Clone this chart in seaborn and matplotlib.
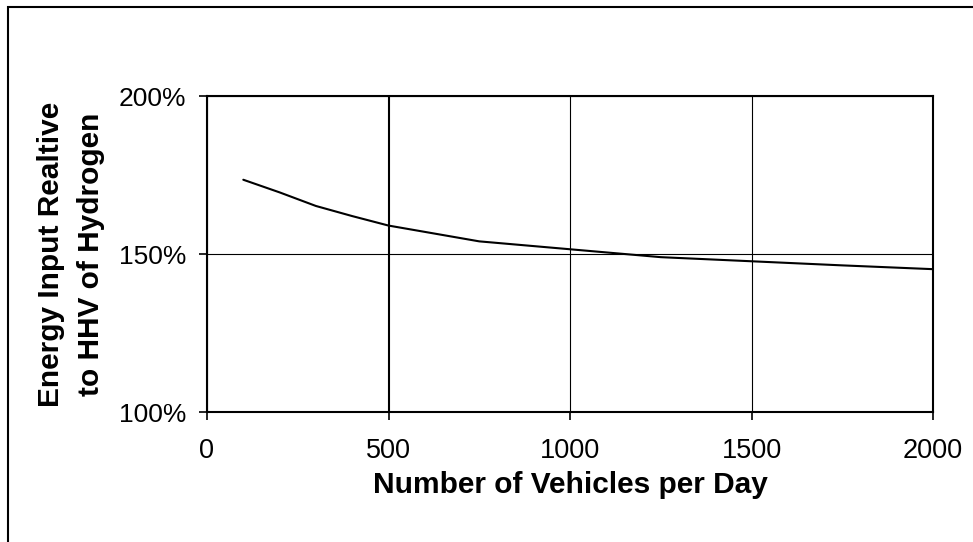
import matplotlib
matplotlib.use("Agg")
import matplotlib.pyplot as plt
import seaborn as sns
import pandas as pd
from matplotlib.patches import Rectangle
from matplotlib.ticker import FuncFormatter

# Data
vehicles_per_day = [100, 200, 300, 400, 500, 750, 1000, 1250, 1500, 1750, 2000]
energy_input_pct = [173.5, 169.5, 165.2, 162.0, 159.0, 154.0, 151.5, 149.0, 147.7, 146.4, 145.2]

x_ticks = [0, 500, 1000, 1500, 2000]
y_ticks = [100, 150, 200]

x_label = "Number of Vehicles per Day"
y_label = "Energy Input Realtive\nto HHV of Hydrogen"

df = pd.DataFrame({"vehicles": vehicles_per_day, "energy": energy_input_pct})

sns.set_style("ticks")
plt.rcParams["font.family"] = ["Liberation Sans", "DejaVu Sans"]
plt.rcParams["text.color"] = "black"
plt.rcParams["axes.labelcolor"] = "black"

fig = plt.figure(figsize=(9.73, 5.42), dpi=100)
ax = fig.add_axes([207 / 973, 1 - 412 / 542, (933 - 207) / 973, (412 - 96) / 542])

sns.lineplot(data=df, x="vehicles", y="energy", color="black", linewidth=1.5, ax=ax)

ax.set_xlim(0, 2000)
ax.set_ylim(100, 200)
ax.set_xticks(x_ticks)
ax.set_yticks(y_ticks)
ax.yaxis.set_major_formatter(FuncFormatter(lambda v, pos: f"{v:.0f}%"))

ax.grid(True, color="black", linewidth=0.8)
ax.set_axisbelow(True)
# the 500 gridline is drawn a bit heavier in the original
for tick_pos, gl in zip(x_ticks, ax.get_xgridlines()):
    if tick_pos == 500:
        gl.set_linewidth(1.5)

for side in ["left", "right", "top", "bottom"]:
    ax.spines[side].set_visible(True)
    ax.spines[side].set_color("black")
    ax.spines[side].set_linewidth(1.5)

ax.tick_params(axis="x", direction="out", length=6, width=1.2, color="black",
               labelsize=19.5, pad=13, labelcolor="black")
ax.tick_params(axis="y", direction="out", length=6, width=1.2, color="black",
               labelsize=19, pad=9, labelcolor="black")

ax.set_xlabel(x_label, fontsize=21.5, fontweight="bold", labelpad=5)
ax.set_ylabel(y_label, fontsize=21.5, fontweight="bold", labelpad=10, linespacing=1.55)

# outer frame of the chart, cut off at right and bottom like the original
fig.add_artist(Rectangle((8 / 973, -0.1), 1.2, (1 - 7 / 542) + 0.1,
                         transform=fig.transFigure, fill=False,
                         edgecolor="black", linewidth=1.5))

fig.savefig("out.png", dpi=100)
plt.close(fig)
